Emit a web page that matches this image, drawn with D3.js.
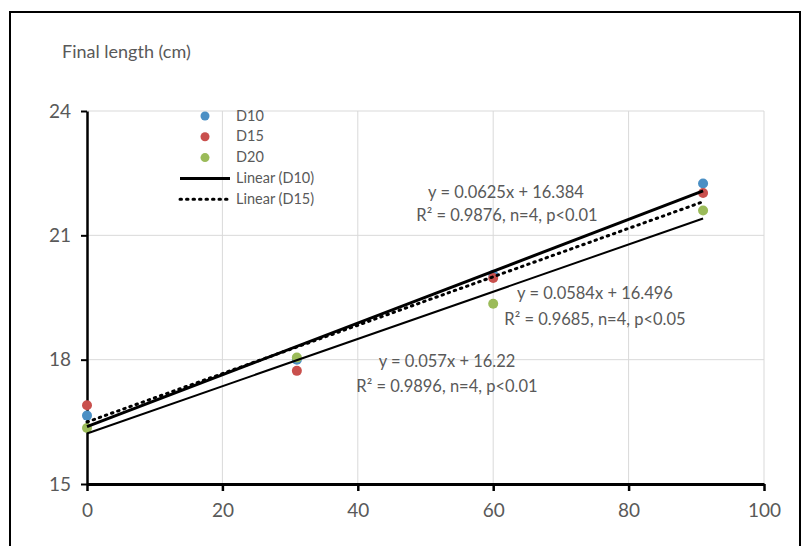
<!DOCTYPE html>
<html><head><meta charset="utf-8">
<script src="https://cdn.jsdelivr.net/npm/d3@7/dist/d3.min.js"></script>
<style>body{margin:0;background:#fff}svg{display:block}text{font-family:Lato,"Open Sans",sans-serif;fill:#595959}</style>
</head><body><svg id="c" width="802" height="546"></svg>
<script>
const days = [0, 31, 60, 91];
const seriesNames = ["D10", "D15", "D20"];
const d10 = [16.65, 18.0, 20.05, 22.25];
const d15 = [16.9, 17.73, 19.97, 22.02];
const d20 = [16.35, 18.05, 19.35, 21.6];
const colors = ["#4a8fc4", "#c9504d", "#9bbb59"];
const fits = [{slope:0.0625, icpt:16.384}, {slope:0.0584, icpt:16.496}, {slope:0.057, icpt:16.22}];
const eqLines = [
  ["y = 0.0625x + 16.384", "R² = 0.9876, n=4, p<0.01"],
  ["y = 0.0584x + 16.496", "R² = 0.9685, n=4, p<0.05"],
  ["y = 0.057x + 16.22", "R² = 0.9896, n=4, p<0.01"]
];
const xTicks = [0, 20, 40, 60, 80, 100];
const yTicks = [15, 18, 21, 24];

const svg = d3.select("#c");
svg.append("rect").attr("x",10).attr("y",12).attr("width",790).attr("height",560).attr("fill","none").attr("stroke","#000").attr("stroke-width",2);

const x = d3.scaleLinear().domain([0,100]).range([87,764]);
const y = d3.scaleLinear().domain([15,24]).range([484,111]);

const g = svg.append("g");
g.selectAll("line.h").data(yTicks.filter(t=>t>15)).enter().append("line")
 .attr("x1",x(0)).attr("x2",x(100)).attr("y1",d=>y(d)).attr("y2",d=>y(d)).attr("stroke","#d9d9d9").attr("stroke-width",1);
g.selectAll("line.v").data(xTicks.filter(t=>t>0)).enter().append("line")
 .attr("x1",d=>x(d)).attr("x2",d=>x(d)).attr("y1",y(15)).attr("y2",y(24)).attr("stroke","#d9d9d9").attr("stroke-width",1);

const xa = svg.append("g").attr("transform",`translate(0,${y(15)})`)
 .call(d3.axisBottom(x).tickValues(xTicks).tickSize(7).tickPadding(13).tickSizeOuter(0));
xa.select(".domain").attr("stroke","#000").attr("stroke-width",3);
xa.selectAll(".tick line").attr("stroke","#000").attr("stroke-width",2.5);
xa.selectAll("text").style("font-size","19px").attr("fill","#595959");

const ya = svg.append("g").attr("transform",`translate(${x(0)},0)`)
 .call(d3.axisLeft(y).tickValues(yTicks).tickSize(6).tickPadding(10).tickSizeOuter(0));
ya.select(".domain").attr("stroke","#000").attr("stroke-width",2.5);
ya.selectAll(".tick line").attr("stroke","#000").attr("stroke-width",2);
ya.selectAll("text").style("font-size","19px").attr("fill","#595959");

svg.append("text").attr("x",62).attr("y",58).style("font-size","18px").text("Final length (cm)");

const all = [d10, d15, d20];
all.forEach((vals,i)=>{
  svg.append("g").selectAll("circle").data(vals).enter().append("circle")
   .attr("cx",(d,j)=>x(days[j])).attr("cy",d=>y(d)).attr("r",5).attr("fill",colors[i]);
});

const styles = [{w:3,dash:null},{w:3,dash:"1.5,5"},{w:2,dash:null}];
fits.forEach((f,i)=>{
  const l = svg.append("line").attr("x1",x(days[0])).attr("y1",y(f.icpt))
   .attr("x2",x(days[3])).attr("y2",y(f.icpt+f.slope*days[3]))
   .attr("stroke","#000").attr("stroke-width",styles[i].w);
  if(styles[i].dash) l.attr("stroke-dasharray",styles[i].dash).attr("stroke-linecap","round");
});

const eqPos = [[506,198,507,221],[595,299,595,325],[447,367,447,392]];
eqLines.forEach((ls,i)=>{
  const p = eqPos[i];
  svg.append("text").attr("x",p[0]).attr("y",p[1]).attr("text-anchor","middle").style("font-size","16.5px").text(ls[0]);
  svg.append("text").attr("x",p[2]).attr("y",p[3]).attr("text-anchor","middle").style("font-size","16.5px").text(ls[1]);
});

const legItems = [
  {t:"D10",type:"dot",c:colors[0]},{t:"D15",type:"dot",c:colors[1]},{t:"D20",type:"dot",c:colors[2]},
  {t:"Linear (D10)",type:"line",dash:null},{t:"Linear (D15)",type:"line",dash:"1.5,5"}
];
const lg = svg.append("g");
legItems.forEach((it,i)=>{
  const yy = 116 + i*20.8;
  if(it.type==="dot") lg.append("circle").attr("cx",205).attr("cy",yy).attr("r",4.5).attr("fill",it.c);
  else { const l = lg.append("line").attr("x1",180).attr("x2",230).attr("y1",yy).attr("y2",yy).attr("stroke","#000").attr("stroke-width",3);
    if(it.dash) l.attr("stroke-dasharray",it.dash).attr("stroke-linecap","round"); }
  lg.append("text").attr("x",236).attr("y",yy+4.5).style("font-size","14.5px").text(it.t);
});
</script></body></html>
